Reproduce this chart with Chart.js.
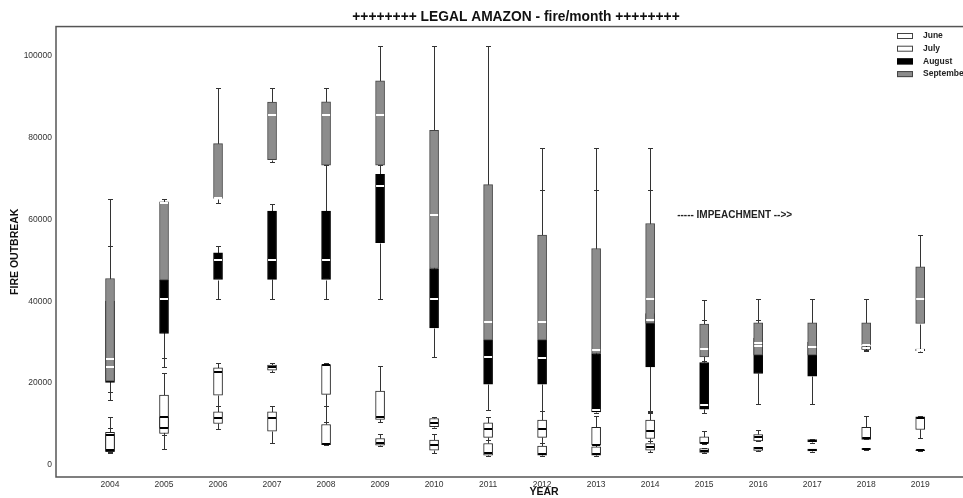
<!DOCTYPE html>
<html>
<head>
<meta charset="utf-8">
<script src="https://cdn.jsdelivr.net/npm/chart.js@4"></script>
<style>
html, body { margin: 0; padding: 0; background: #fff; overflow: hidden; }
#wrap { width: 1032px; height: 498px; position: relative; }
</style>
</head>
<body>
<div id="wrap"><canvas id="fogoChart"></canvas></div>
<script>
// Anos
const years = [2004, 2005, 2006, 2007, 2008, 2009, 2010, 2011, 2012, 2013, 2014, 2015, 2016, 2017, 2018, 2019];

// [min, q1, mediana, q3, max] por ano
const june = [
    [2850, 3250, 3660, 7500, 8940], [3820, 7720, 8940, 11790, 12500], [8780, 10160, 11540, 13000, 14470],
    [5280, 8290, 11380, 13000, 14470], [4880, 5000, 5100, 9920, 14470], [4630, 4880, 5280, 6500, 7560],
    [3010, 3660, 4880, 6100, 7560], [2200, 2440, 2850, 5280, 6200], [2200, 2440, 2700, 4630, 5500],
    [2200, 2440, 2600, 4470, 4880], [3090, 3660, 4300, 5280, 6000], [3000, 3090, 3500, 4060, 4200],
    [3500, 3600, 4060, 4310, 4400], [3300, 3450, 3660, 3900, 4000], [3800, 3850, 3950, 4060, 4100],
    [3500, 3550, 3660, 3750, 3800]
];
const july = [
    [3100, 3500, 7320, 7970, 11790], [7320, 8940, 11790, 17070, 22520], [13000, 17070, 22600, 23740, 24960],
    [22600, 23170, 23980, 24390, 24960], [10400, 17240, 24390, 24550, 24960], [10570, 11140, 11790, 18050, 24150],
    [8940, 9350, 10330, 11380, 11790], [6200, 6750, 8780, 10330, 11790], [5500, 6750, 8780, 10980, 13250],
    [4470, 4880, 5000, 9190, 12000], [6000, 6500, 8370, 10980, 13000], [5120, 5280, 5450, 6910, 8370],
    [5930, 5930, 6750, 7480, 8540], [5500, 5700, 5930, 6200, 6300], [6260, 6260, 6500, 9190, 12030],
    [6500, 8700, 11600, 11790, 11900]
];
const august = [
    [17890, 20200, 23820, 40000, 53500], [26020, 32110, 40650, 45120, 50000], [40650, 45280, 50000, 51790, 53500],
    [40650, 45300, 50000, 61950, 63800], [40650, 45280, 50000, 61950, 73170], [40650, 54300, 68050, 70970, 73170],
    [26420, 33500, 40650, 47970, 55000], [13410, 19760, 26420, 30490, 40000], [13250, 19760, 26180, 30490, 67070],
    [12600, 13000, 13500, 27240, 67070], [12600, 23980, 35360, 37000, 67070], [12600, 13660, 14630, 25040, 35360],
    [14800, 22360, 29020, 31000, 35360], [14800, 21710, 28860, 30000, 33000], [27890, 28200, 28500, 28900, 29200],
    [27700, 27900, 28100, 28300, 28450]
];
const september = [
    [15850, 20490, 25850, 45530, 64880], [23980, 45120, 63980, 64230, 64880], [63980, 65040, 65200, 78450, 92030],
    [73900, 74550, 85400, 88600, 92030], [61950, 73170, 85370, 88620, 92030], [70970, 73170, 85370, 93740, 102200],
    [40000, 47970, 60980, 81700, 102200], [25000, 30490, 34800, 68450, 102200], [25000, 30490, 34800, 56100, 77480],
    [20000, 27240, 28050, 52850, 77480], [13250, 34550, 40650, 58940, 77480], [25500, 26420, 28210, 34390, 40400],
    [26000, 26830, 29840, 34710, 40650], [26000, 26830, 28860, 34710, 40650], [28000, 29270, 29300, 34710, 40650],
    [28450, 34550, 40650, 48370, 56100]
];

const yTicks = [0, 20000, 40000, 60000, 80000, 100000];
const note = { text: '----- IMPEACHMENT -->>', x: 2014.5, y: 61000 };

const months = [
    { label: 'June', stats: june, fill: '#ffffff', edge: '#222222', median: '#000000' },
    { label: 'July', stats: july, fill: '#ffffff', edge: '#222222', median: '#000000' },
    { label: 'August', stats: august, fill: '#000000', edge: '#000000', median: '#ffffff' },
    { label: 'September', stats: september, fill: '#8c8c8c', edge: '#444444', median: '#ffffff' }
];

const FONT = "'Liberation Sans', Arial, sans-serif";

const boxPlot = {
    id: 'boxPlot',
    // bigodes antes das caixas
    beforeDatasetsDraw(chart) {
        const { ctx, scales: { x, y } } = chart;
        ctx.save();
        ctx.strokeStyle = '#333';
        ctx.lineWidth = 1;
        months.forEach(m => {
            m.stats.forEach((s, i) => {
                const px = Math.round(x.getPixelForValue(years[i])) + 0.5;
                const [mn, q1, , q3, mx] = s.map(v => Math.round(y.getPixelForValue(v)) + 0.5);
                ctx.beginPath();
                ctx.moveTo(px, q1); ctx.lineTo(px, mn);
                ctx.moveTo(px, q3); ctx.lineTo(px, mx);
                ctx.moveTo(px - 2.5, mn); ctx.lineTo(px + 2.5, mn);
                ctx.moveTo(px - 2.5, mx); ctx.lineTo(px + 2.5, mx);
                ctx.stroke();
            });
        });
        ctx.restore();
    },
    afterDatasetsDraw(chart) {
        const { ctx, chartArea, scales: { x, y } } = chart;
        ctx.save();
        // medianas
        ctx.lineWidth = 2;
        months.forEach(m => {
            ctx.strokeStyle = m.median;
            m.stats.forEach((s, i) => {
                const px = x.getPixelForValue(years[i]);
                const py = Math.round(y.getPixelForValue(s[2]));
                ctx.beginPath();
                ctx.moveTo(px - 4, py); ctx.lineTo(px + 4, py);
                ctx.stroke();
            });
        });
        // moldura
        ctx.strokeStyle = '#555';
        ctx.lineWidth = 1.5;
        ctx.strokeRect(chartArea.left, chartArea.top, chartArea.right - chartArea.left, chartArea.bottom - chartArea.top);
        // anotacao
        ctx.fillStyle = '#222';
        ctx.font = 'bold 10px ' + FONT;
        ctx.textAlign = 'left';
        ctx.textBaseline = 'middle';
        ctx.fillText(note.text, x.getPixelForValue(note.x), y.getPixelForValue(note.y));
        // legenda
        ctx.font = 'bold 8.5px ' + FONT;
        months.forEach((m, k) => {
            const ly = 36 + k * 12.7;
            ctx.fillStyle = m.fill;
            ctx.fillRect(897, ly - 3, 16, 6);
            ctx.strokeStyle = m.label === 'August' ? '#000' : '#444';
            ctx.lineWidth = 1;
            ctx.strokeRect(897.5, ly - 2.5, 15, 5);
            ctx.fillStyle = '#222';
            ctx.fillText(m.label, 923, ly);
        });
        ctx.restore();
    }
};

// setembro primeiro na lista = desenhado por cima
const boxSets = months.slice().reverse().map(m => ({
    label: m.label,
    data: years.map((yr, i) => ({ x: yr, y: [m.stats[i][1], m.stats[i][3]] })),
    backgroundColor: m.fill,
    borderColor: m.edge,
    borderWidth: 1,
    borderSkipped: false,
    barThickness: 9,
    grouped: false
}));

new Chart(document.getElementById('fogoChart'), {
    type: 'bar',
    data: { datasets: boxSets },
    options: {
        responsive: true,
        maintainAspectRatio: false,
        animation: false,
        events: [],
        layout: { padding: { left: 0, right: 0, top: 0, bottom: 0 } },
        plugins: {
            legend: { display: false },
            tooltip: { enabled: false },
            title: {
                display: true,
                text: '++++++++ LEGAL AMAZON - fire/month ++++++++',
                color: '#111',
                font: { family: FONT, size: 13.8, weight: 'bold' },
                padding: { top: 9, bottom: 1 }
            }
        },
        scales: {
            x: {
                type: 'linear',
                offset: false,
                min: 2003,
                max: 2021.07,
                grid: { display: false, drawTicks: false },
                border: { display: false },
                afterBuildTicks: scale => { scale.ticks = years.map(v => ({ value: v })); },
                afterFit: scale => { scale.height = 21; },
                ticks: {
                    padding: 3,
                    color: '#333',
                    font: { family: FONT, size: 8.5 },
                    maxRotation: 0,
                    autoSkip: false,
                    callback: v => String(v)
                },
                title: {
                    display: true,
                    text: 'YEAR',
                    color: '#111',
                    font: { family: FONT, size: 10.5, weight: 'bold' },
                    padding: { top: 0, bottom: 0 }
                }
            },
            y: {
                min: -2900,
                max: 107000,
                grid: { display: false, drawTicks: false },
                border: { display: false },
                afterBuildTicks: scale => { scale.ticks = yTicks.map(v => ({ value: v })); },
                afterFit: scale => { scale.width = 56; },
                ticks: {
                    padding: 4,
                    color: '#333',
                    font: { family: FONT, size: 8.5 },
                    callback: v => String(v)
                },
                title: {
                    display: true,
                    text: 'FIRE OUTBREAK',
                    color: '#111',
                    font: { family: FONT, size: 10.5, weight: 'bold' },
                    padding: { top: 9, bottom: 0 }
                }
            }
        }
    },
    plugins: [boxPlot]
});
</script>
</body>
</html>
